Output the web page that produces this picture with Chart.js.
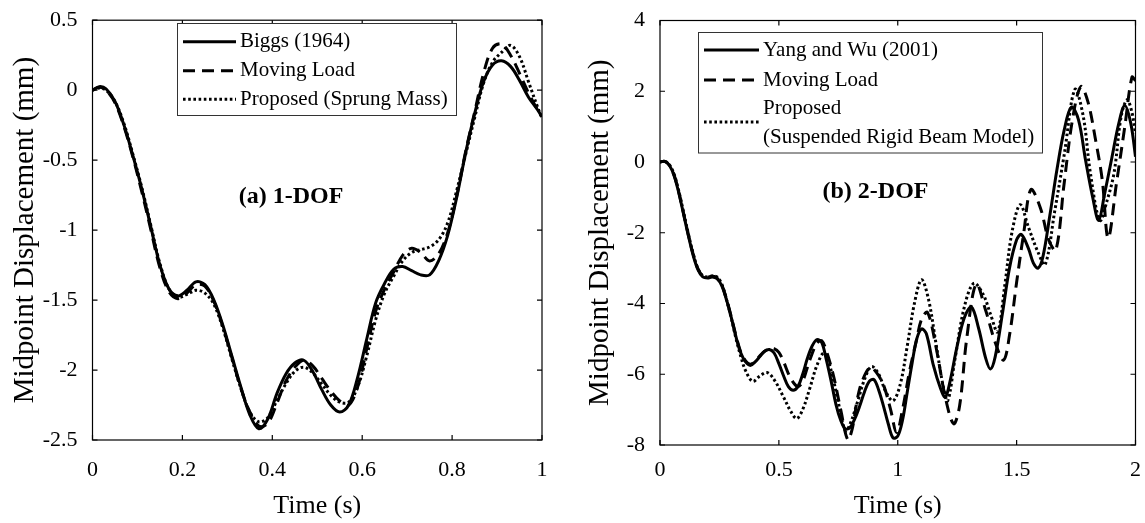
<!DOCTYPE html>
<html><head><meta charset="utf-8">
<script src="https://cdn.jsdelivr.net/npm/chart.js@4.4.1/dist/chart.umd.min.js"></script>
<style>
html,body{margin:0;padding:0;background:#fff;}
#wrap{position:relative;width:1145px;height:523px;overflow:hidden;background:#fff;}
#cA{position:absolute;left:0;top:0;}
#cB{position:absolute;left:575px;top:0;}
</style></head><body>
<div id="wrap"><canvas id="cA" width="575" height="523"></canvas><canvas id="cB" width="570" height="523"></canvas></div>
<script>
// ---------- Panel (a) 1-DOF ----------
const namesA = ['Biggs (1964)', 'Moving Load', 'Proposed (Sprung Mass)'];
const tA = [0, 0.015, 0.03, 0.05, 0.07, 0.09, 0.11, 0.13, 0.15, 0.17, 0.19, 0.21, 0.23, 0.25, 0.27, 0.29, 0.31, 0.33, 0.35, 0.37, 0.39, 0.41, 0.43, 0.45, 0.47, 0.49, 0.51, 0.53, 0.55, 0.57, 0.59, 0.61, 0.63, 0.65, 0.67, 0.69, 0.71, 0.73, 0.75, 0.77, 0.79, 0.81, 0.83, 0.85, 0.87, 0.89, 0.91, 0.93, 0.95, 0.97, 0.99, 1.0];
const biggs = [0, 0.025, 0.01, -0.08, -0.25, -0.47, -0.71, -0.98, -1.25, -1.42, -1.47, -1.43, -1.37, -1.39, -1.50, -1.68, -1.90, -2.12, -2.32, -2.42, -2.35, -2.17, -2.03, -1.95, -1.93, -2.01, -2.14, -2.25, -2.30, -2.25, -2.05, -1.78, -1.52, -1.38, -1.28, -1.26, -1.29, -1.32, -1.32, -1.22, -1.04, -0.77, -0.45, -0.17, 0.06, 0.18, 0.21, 0.17, 0.07, -0.05, -0.14, -0.19];
const movingA = [0, 0.02, 0.0, -0.09, -0.26, -0.48, -0.73, -1.0, -1.27, -1.44, -1.49, -1.45, -1.39, -1.40, -1.51, -1.69, -1.91, -2.13, -2.30, -2.40, -2.38, -2.24, -2.08, -1.98, -1.93, -1.97, -2.06, -2.15, -2.22, -2.25, -2.12, -1.85, -1.58, -1.42, -1.30, -1.18, -1.13, -1.16, -1.22, -1.17, -1.02, -0.76, -0.44, -0.16, 0.12, 0.30, 0.33, 0.25, 0.12, -0.02, -0.14, -0.19];
const proposedA = [0, 0.015, 0.0, -0.08, -0.24, -0.46, -0.70, -0.97, -1.24, -1.42, -1.48, -1.46, -1.43, -1.45, -1.53, -1.70, -1.92, -2.13, -2.30, -2.37, -2.34, -2.22, -2.10, -2.01, -1.98, -2.02, -2.10, -2.18, -2.23, -2.23, -2.12, -1.90, -1.64, -1.45, -1.33, -1.22, -1.16, -1.14, -1.12, -1.07, -0.95, -0.72, -0.46, -0.20, 0.05, 0.20, 0.27, 0.32, 0.24, 0.06, -0.12, -0.20];
const xTicksA = [0, 0.2, 0.4, 0.6, 0.8, 1];
const yTicksA = [-2.5, -2, -1.5, -1, -0.5, 0, 0.5];

// ---------- Panel (b) 2-DOF ----------
const namesB = ['Yang and Wu (2001)', 'Moving Load', 'Proposed\n(Suspended Rigid Beam Model)'];
const tYW = [0, 0.02, 0.04, 0.06, 0.08, 0.10, 0.12, 0.14, 0.16, 0.18, 0.20, 0.22, 0.24, 0.26, 0.28, 0.30, 0.32, 0.34, 0.36, 0.38, 0.40, 0.42, 0.44, 0.46, 0.48, 0.50, 0.52, 0.54, 0.56, 0.58, 0.60, 0.62, 0.64, 0.66, 0.68, 0.70, 0.72, 0.74, 0.76, 0.78, 0.80, 0.82, 0.84, 0.86, 0.88, 0.90, 0.92, 0.94, 0.96, 0.98, 1.00, 1.02, 1.04, 1.06, 1.08, 1.10, 1.12, 1.15, 1.18, 1.20, 1.22, 1.25, 1.28, 1.31, 1.34, 1.37, 1.39, 1.41, 1.44, 1.47, 1.50, 1.52, 1.55, 1.57, 1.59, 1.61, 1.64, 1.67, 1.70, 1.73, 1.76, 1.79, 1.82, 1.845, 1.87, 1.90, 1.93, 1.955, 1.98, 2.0];
const yangWu = [0, 0.02, -0.1, -0.4, -0.9, -1.5, -2.1, -2.65, -3.05, -3.25, -3.28, -3.25, -3.3, -3.5, -3.9, -4.4, -4.95, -5.4, -5.65, -5.75, -5.65, -5.5, -5.35, -5.3, -5.4, -5.7, -6.05, -6.35, -6.45, -6.35, -6.0, -5.55, -5.2, -5.02, -5.1, -5.6, -6.2, -6.85, -7.3, -7.55, -7.5, -7.25, -6.9, -6.5, -6.2, -6.15, -6.45, -6.9, -7.4, -7.8, -7.75, -7.3, -6.5, -5.7, -5.0, -4.72, -4.85, -5.75, -6.4, -6.65, -6.2, -5.2, -4.4, -4.1, -4.7, -5.55, -5.85, -5.5, -4.3, -3.0, -2.2, -2.05, -2.45, -2.85, -3.0, -2.7, -1.5, -0.2, 0.9, 1.55, 1.2, 0.05, -1.0, -1.65, -0.9, 0.1, 1.1, 1.6, 1.1, 0.15];
const tML = [0, 0.02, 0.04, 0.06, 0.08, 0.10, 0.12, 0.14, 0.16, 0.18, 0.20, 0.22, 0.24, 0.26, 0.28, 0.30, 0.32, 0.34, 0.36, 0.38, 0.40, 0.42, 0.44, 0.46, 0.48, 0.50, 0.52, 0.55, 0.58, 0.60, 0.63, 0.66, 0.68, 0.70, 0.73, 0.76, 0.79, 0.81, 0.83, 0.85, 0.885, 0.91, 0.94, 0.97, 0.995, 1.02, 1.05, 1.08, 1.10, 1.125, 1.16, 1.20, 1.235, 1.26, 1.29, 1.33, 1.37, 1.41, 1.445, 1.47, 1.50, 1.53, 1.56, 1.60, 1.635, 1.665, 1.70, 1.735, 1.77, 1.80, 1.83, 1.86, 1.885, 1.92, 1.955, 1.985, 2.0];
const movingB = [0, 0.02, -0.1, -0.38, -0.88, -1.48, -2.08, -2.62, -3.02, -3.22, -3.26, -3.22, -3.28, -3.48, -3.88, -4.38, -4.92, -5.38, -5.62, -5.72, -5.63, -5.48, -5.35, -5.28, -5.28, -5.38, -5.65, -6.12, -6.35, -6.2, -5.6, -5.12, -5.05, -5.35, -6.05, -7.0, -7.85, -7.5, -6.7, -6.2, -5.8, -5.95, -6.3, -7.0, -7.65, -7.0, -5.9, -5.0, -4.45, -4.25, -5.2, -6.65, -7.4, -6.9, -5.0, -3.45, -4.2, -5.1, -5.6, -4.9, -3.4, -2.0, -0.78, -1.3, -2.2, -2.5, -0.6, 1.2, 2.13, 1.7, 0.7, -0.5, -2.15, -0.6, 1.0, 2.4, 2.3];
const tPR = [0, 0.02, 0.04, 0.06, 0.08, 0.10, 0.12, 0.14, 0.16, 0.18, 0.20, 0.22, 0.24, 0.26, 0.28, 0.30, 0.32, 0.34, 0.36, 0.39, 0.42, 0.45, 0.48, 0.52, 0.55, 0.575, 0.60, 0.63, 0.66, 0.69, 0.72, 0.75, 0.78, 0.80, 0.83, 0.86, 0.89, 0.92, 0.95, 0.98, 1.01, 1.04, 1.07, 1.10, 1.13, 1.16, 1.19, 1.21, 1.24, 1.28, 1.32, 1.36, 1.39, 1.42, 1.45, 1.48, 1.515, 1.55, 1.59, 1.62, 1.66, 1.70, 1.745, 1.78, 1.81, 1.85, 1.88, 1.91, 1.94, 1.965, 1.985, 2.0];
const proposedB = [0, 0.02, -0.08, -0.36, -0.85, -1.45, -2.05, -2.6, -3.02, -3.22, -3.25, -3.22, -3.25, -3.45, -3.9, -4.42, -5.0, -5.5, -5.9, -6.2, -6.05, -5.95, -6.15, -6.65, -7.05, -7.25, -7.0, -6.4, -5.75, -5.4, -5.9, -6.8, -7.6, -7.4, -6.8, -6.15, -5.78, -6.0, -6.5, -6.75, -6.3, -5.2, -4.0, -3.33, -3.9, -5.1, -6.3, -6.75, -5.6, -4.1, -3.43, -3.75, -4.3, -4.8, -3.5, -2.0, -1.21, -1.85, -2.55, -2.9, -1.4, 0.2, 2.05, 1.3, -0.3, -1.65, -1.1, -0.3, 1.3, 1.76, 1.4, 0.8];
const xTicksB = [0, 0.5, 1, 1.5, 2];
const yTicksB = [-8, -6, -4, -2, 0, 2, 4];

const FONT = '"Liberation Serif", "Times New Roman", Times, serif';
const pts = (t, v) => t.map((x, i) => ({x: x, y: v[i]}));
const fmt = v => String(Math.round(v * 1000) / 1000);

const frameTicks = {
  id: 'frameTicks',
  afterDatasetsDraw(chart, args, o) {
    const {ctx, chartArea: a, scales} = chart;
    ctx.save();
    ctx.strokeStyle = '#000';
    ctx.lineWidth = 1.2;
    ctx.setLineDash([]);
    ctx.strokeRect(a.left, a.top, a.right - a.left, a.bottom - a.top);
    const L = o.len || 5;
    ctx.beginPath();
    scales.x.ticks.forEach(t => {
      const p = scales.x.getPixelForValue(t.value);
      ctx.moveTo(p, a.bottom); ctx.lineTo(p, a.bottom - L);
      ctx.moveTo(p, a.top); ctx.lineTo(p, a.top + L);
    });
    scales.y.ticks.forEach(t => {
      const p = scales.y.getPixelForValue(t.value);
      ctx.moveTo(a.left, p); ctx.lineTo(a.left + L, p);
      ctx.moveTo(a.right, p); ctx.lineTo(a.right - L, p);
    });
    ctx.stroke();
    ctx.restore();
  }
};

const boxLegend = {
  id: 'boxLegend',
  afterDatasetsDraw(chart, args, o) {
    const ctx = chart.ctx;
    ctx.save();
    ctx.fillStyle = '#fff';
    ctx.fillRect(o.x, o.y, o.w, o.h);
    ctx.strokeStyle = '#333';
    ctx.lineWidth = 1;
    ctx.strokeRect(o.x, o.y, o.w, o.h);
    ctx.font = o.font;
    ctx.textBaseline = 'middle';
    ctx.textAlign = 'left';
    chart.data.datasets.forEach((ds, i) => {
      const lines = ds.label.split('\n');
      ctx.strokeStyle = ds.borderColor;
      ctx.lineWidth = ds.borderWidth;
      ctx.lineCap = 'butt';
      ctx.setLineDash(ds.borderDash || []);
      ctx.beginPath();
      ctx.moveTo(o.sx0, o.sampleY[i]);
      ctx.lineTo(o.sx1, o.sampleY[i]);
      ctx.stroke();
      ctx.setLineDash([]);
      ctx.fillStyle = '#000';
      lines.forEach((ln, k) => ctx.fillText(ln, o.tx, o.textY[i][k]));
    });
    ctx.restore();
  }
};

const panelNote = {
  id: 'panelNote',
  afterDatasetsDraw(chart, args, o) {
    const ctx = chart.ctx;
    ctx.save();
    ctx.font = o.font;
    ctx.fillStyle = '#000';
    ctx.textAlign = 'center';
    ctx.textBaseline = 'middle';
    ctx.fillText(o.text, o.x, o.y);
    ctx.restore();
  }
};

function makeChart(id, cfg) {
  const ds = cfg.series.map((s, i) => ({
    label: cfg.names[i],
    data: pts(s.t, s.v),
    borderColor: '#000',
    backgroundColor: '#000',
    borderWidth: 3,
    borderDash: s.dash,
    pointRadius: 0,
    tension: 0.35,
    fill: false
  }));
  return new Chart(document.getElementById(id), {
    type: 'line',
    data: {datasets: ds},
    plugins: [frameTicks, boxLegend, panelNote],
    options: {
      responsive: false,
      animation: false,
      devicePixelRatio: 1,
      layout: {padding: cfg.pad},
      plugins: {
        legend: {display: false},
        tooltip: {enabled: false},
        frameTicks: {len: 5},
        boxLegend: cfg.legend,
        panelNote: cfg.note
      },
      scales: {
        x: {
          type: 'linear', min: cfg.xMin, max: cfg.xMax,
          afterBuildTicks: sc => { sc.ticks = cfg.xTicks.map(v => ({value: v})); },
          afterFit: sc => { sc.height = cfg.xH; },
          grid: {display: false},
          border: {display: false},
          ticks: {color: '#000', padding: cfg.xPad, maxRotation: 0, autoSkip: false,
                  font: {family: FONT, size: 22}, callback: v => fmt(v)},
          title: {display: true, text: 'Time (s)', color: '#000',
                  font: {family: FONT, size: 26}, padding: {top: 0, bottom: 1}}
        },
        y: {
          type: 'linear', min: cfg.yMin, max: cfg.yMax,
          afterBuildTicks: sc => { sc.ticks = cfg.yTicks.map(v => ({value: v})); },
          afterFit: sc => { sc.width = cfg.yW; },
          grid: {display: false},
          border: {display: false},
          ticks: {color: '#000', padding: 7, autoSkip: false,
                  font: {family: FONT, size: 22}, callback: v => fmt(v)},
          title: {display: true, text: 'Midpoint Displacement (mm)', color: '#000',
                  font: {family: FONT, size: 29}, padding: {top: 8, bottom: 0}}
        }
      }
    }
  });
}

makeChart('cA', {
  names: namesA,
  series: [
    {t: tA, v: biggs, dash: []},
    {t: tA, v: movingA, dash: [12, 7]},
    {t: tA, v: proposedA, dash: [2.6, 2.6]}
  ],
  xMin: 0, xMax: 1, yMin: -2.5, yMax: 0.5,
  xTicks: xTicksA, yTicks: yTicksA,
  pad: {left: 0, top: 16, right: 33, bottom: 0},
  xH: 83, yW: 92.5, xPad: 9,
  legend: {x: 177.5, y: 23.5, w: 279, h: 92, font: '21px ' + FONT,
           sx0: 183, sx1: 236, tx: 240,
           sampleY: [41.7, 70.7, 99.3], textY: [[41.7], [70.7], [99.3]]},
  note: {text: '(a) 1-DOF', x: 291, y: 197, font: 'bold 24px ' + FONT}
});

makeChart('cB', {
  names: namesB,
  series: [
    {t: tYW, v: yangWu, dash: []},
    {t: tML, v: movingB, dash: [12, 7]},
    {t: tPR, v: proposedB, dash: [2.6, 2.6]}
  ],
  xMin: 0, xMax: 2, yMin: -8, yMax: 4,
  xTicks: xTicksB, yTicks: yTicksB,
  pad: {left: 0, top: 20.5, right: 8, bottom: 0},
  xH: 78, yW: 85, xPad: 4,
  legend: {x: 698.5 - 575, y: 32.5, w: 344, h: 120.5, font: '21px ' + FONT,
           sx0: 704 - 575, sx1: 759 - 575, tx: 763 - 575,
           sampleY: [50, 80, 122], textY: [[50], [80], [108, 137]]},
  note: {text: '(b) 2-DOF', x: 875.5 - 575, y: 192, font: 'bold 24px ' + FONT}
});
</script>
</body></html>
